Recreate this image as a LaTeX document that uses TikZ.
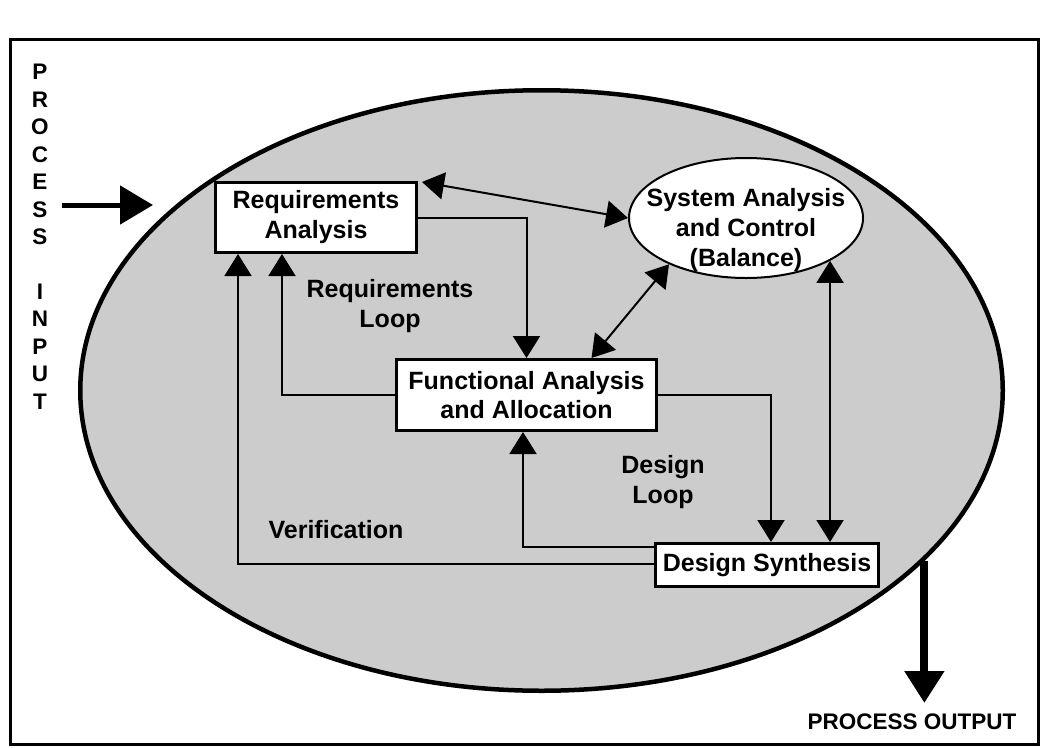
\documentclass[tikz,border=0pt]{standalone}
\usepackage{fontspec}
\setmainfont{Liberation Sans}
\usetikzlibrary{arrows.meta,shapes.geometric,calc}
\definecolor{procgray}{HTML}{CCCCCC}
\begin{document}
\begin{tikzpicture}[x=1pt,y=-1pt,
  lbl/.style={font=\fontsize{25}{30}\selectfont\bfseries, align=center, inner sep=0pt},
  smalllbl/.style={font=\fontsize{22.5}{27.5}\selectfont\bfseries, align=center, inner sep=0pt},
  box/.style={draw, line width=3pt, fill=white, lbl},
  conn/.style={line width=2pt, -{Triangle[length=22pt,width=27pt]}},
  dconn/.style={line width=2pt, {Triangle[length=22pt,width=27pt]}-{Triangle[length=22pt,width=27pt]}},
]
\useasboundingbox (0,0) rectangle (1043,747);
\draw[line width=3pt] (10,39) rectangle (1038,744);

% process ellipse
\node[ellipse, draw, line width=4.5pt, fill=procgray, minimum width=922.5pt, minimum height=600.5pt, inner sep=0pt] (proc) at (541.5,390.5) {};

% nodes
\node[box, minimum width=201pt, minimum height=70pt] (req) at (316,217.5) {\raisebox{-2pt}{Requirements}\\\raisebox{-2pt}{Analysis}};
\node[box, minimum width=260pt, minimum height=71pt, font=\fontsize{25}{29}\selectfont\bfseries] (func) at (526.5,395) {Functional Analysis\\and Allocation};
\node[box, minimum width=223pt, minimum height=43pt] (ds) at (767,565) {Design Synthesis};
\node[ellipse, draw, line width=2pt, fill=white, minimum width=234pt, minimum height=120pt, inner sep=0pt] (sys) at (746,218) {};
\node[lbl] (systx) at (746,230) {System Analysis\\and Control\\(Balance)};

% labels
\node[lbl] (reqloop) at (390,306.5) {Requirements\\Loop};
\node[lbl] (desloop) at (663,482.5) {Design\\Loop};
\node[lbl] (verif) at (336,529.5) {Verification};

% connectors
\draw[dconn] ($(req.north east)+(4,1)$) -- (sys.west);
\draw[conn] (req.east) -| (func.north);
\draw[dconn] ($(func.north)+(65,0)$) -- (sys.211);
\draw[dconn] (sys.-27) -- (sys.-27 |- ds.north);
\draw[conn] (func.east) -| ($(ds.north)+(4,0)$);
\draw[conn] (func.west) -| ($(req.south)+(-34,0)$);
\draw[conn] ($(ds.west)+(0,-18)$) -| ($(func.south)+(-3.5,0)$);
\draw[conn] ($(ds.west)+(0,-1)$) -| ($(req.south)+(-78,0)$);

% process input / output
\node[smalllbl] (pin) at (40,237) {P\\R\\O\\C\\E\\S\\S\\[27pt]I\\N\\P\\U\\T};
\coordinate (inbeg) at (62,205);
\coordinate (inend) at (153,205);
\draw[line width=5pt, -{Triangle[length=33pt,width=38pt]}] (inbeg) -- (inend);

\coordinate (outend) at (920,703);
\draw[line width=8pt, -{Triangle[length=32pt,width=38pt]}] (proc.-24.8) -- (proc.-24.8 |- outend);
\node[smalllbl] (pout) at (912,722) {PROCESS OUTPUT};
\end{tikzpicture}
\end{document}
